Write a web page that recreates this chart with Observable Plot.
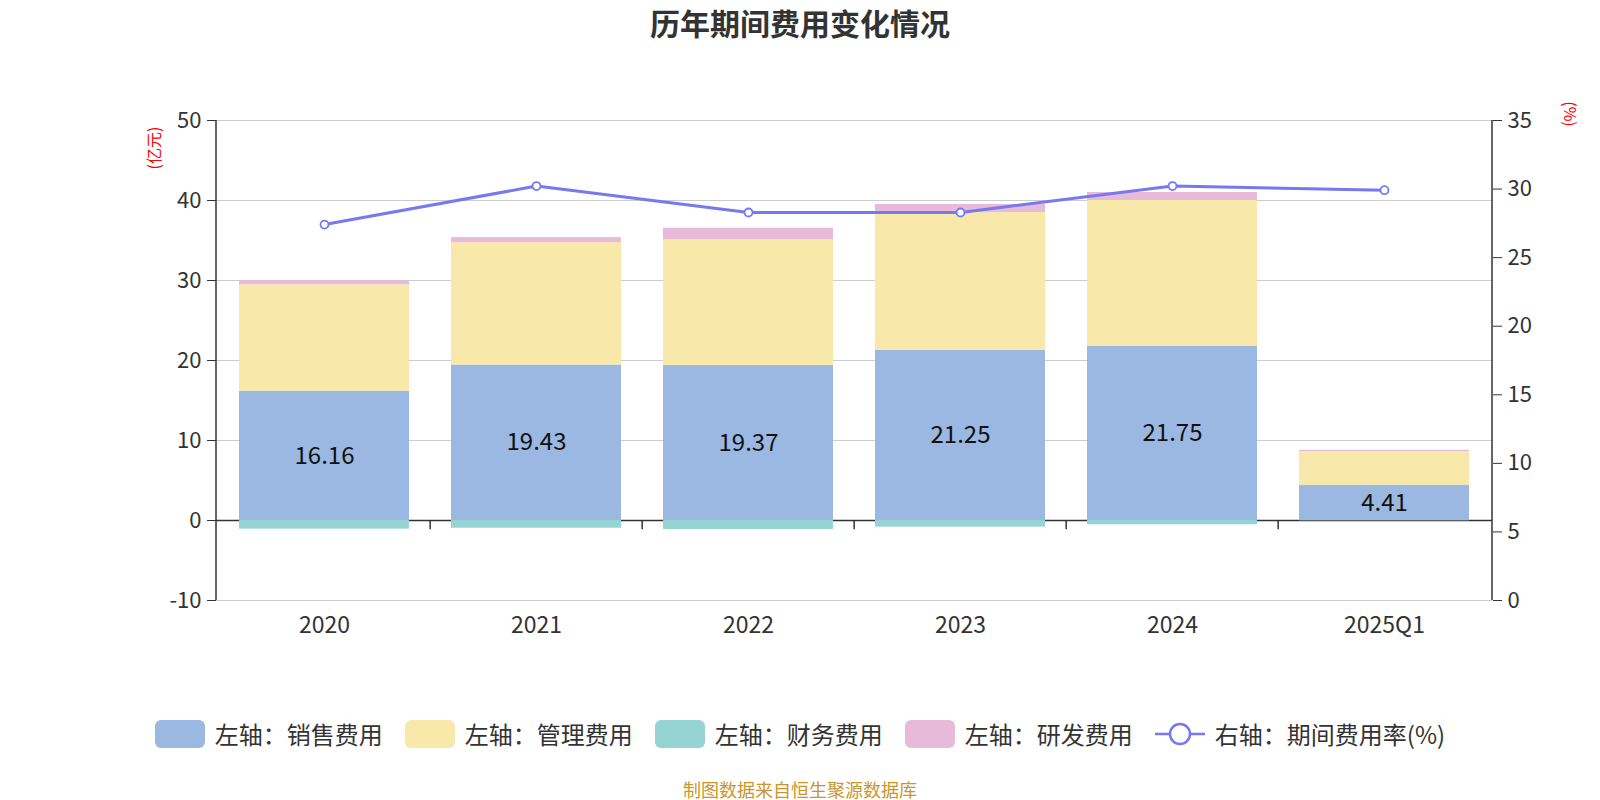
<!DOCTYPE html>
<html>
<head>
<meta charset="utf-8">
<script src="https://cdn.jsdelivr.net/npm/d3@7"></script>
<script src="https://cdn.jsdelivr.net/npm/@observablehq/plot@0.6"></script>
<style>
  html, body { margin: 0; padding: 0; background: #fff; }
  #wrap { position: relative; width: 1600px; height: 800px; font-family: "Noto Sans CJK SC", "Noto Sans", sans-serif; color: #333; }
  #title { position: absolute; top: 2px; left: 0; width: 1600px; text-align: center; font-size: 30px; font-weight: bold; color: #333; line-height: 40px; }
  #chart { position: absolute; top: 50px; left: 0; }
  #legend { position: absolute; top: 716px; left: 0; width: 1600px; display: flex; justify-content: center; align-items: center; font-size: 24px; color: #333; }
  .item { display: flex; align-items: center; margin: 0 11px; }
  .sw { width: 50px; height: 28px; border-radius: 6px; margin-right: 10px; }
  .lsym { margin-right: 10px; }
  #footer { position: absolute; top: 777px; left: 0; width: 1600px; text-align: center; font-size: 18px; color: #c9952e; line-height: 24px; }
  .ylab { position: absolute; color: #f00; font-size: 16px; white-space: nowrap; }
</style>
</head>
<body>
<div id="wrap">
  <div id="title"></div>
  <div id="chart"></div>
  <div class="ylab" id="ylabL"></div>
  <div class="ylab" id="ylabR"></div>
  <div id="legend"></div>
  <div id="footer"></div>
</div>
<script>
const categories = ["2020", "2021", "2022", "2023", "2024", "2025Q1"];
const sales   = [16.16, 19.43, 19.37, 21.25, 21.75, 4.41];
const admin   = [13.30, 15.30, 15.73, 17.24, 18.25, 4.20];
const finance = [-1.08, -0.96, -1.12, -0.83, -0.54, -0.04];
const rnd     = [0.50, 0.63, 1.43, 1.01, 1.00, 0.17];
const rate    = [27.41, 30.22, 28.29, 28.29, 30.22, 29.92];
const leftTicks = [-10, 0, 10, 20, 30, 40, 50];
const rightTicks = [0, 5, 10, 15, 20, 25, 30, 35];
const seriesNames = ["左轴：销售费用", "左轴：管理费用", "左轴：财务费用", "左轴：研发费用"];
const lineName = "右轴：期间费用率(%)";
const seriesColors = ["#9bb8e2", "#f8e8a9", "#96d4d4", "#e8bad9"];
const lineColor = "#7878f0";
const titleText = "历年期间费用变化情况";
const footerText = "制图数据来自恒生聚源数据库";
const leftUnit = "(亿元)";
const rightUnit = "(%)";

const L0 = -10, L1 = 50, R0 = 0, R1 = 35;
const toLeft = r => L0 + (r - R0) * (L1 - L0) / (R1 - R0);
const toRight = l => R0 + (l - L0) * (R1 - R0) / (L1 - L0);

const seriesValues = [sales, admin, finance, rnd];
const long = [];
seriesNames.forEach((s, si) => categories.forEach((c, ci) => long.push({cat: c, series: s, value: seriesValues[si][ci]})));
const lineData = categories.map((c, i) => ({cat: c, rate: rate[i]}));
const salesData = categories.map((c, i) => ({cat: c, v: sales[i]}));

const W = 1600, H = 620, ML = 216, MR = 108, MT = 70, MB = 70;
const step = (W - ML - MR) / categories.length;

function axisLines(index, scales, values, dims) {
  const g = d3.create("svg:g");
  const top = dims.marginTop, bot = dims.height - dims.marginBottom;
  g.append("line").attr("x1", dims.marginLeft).attr("x2", dims.marginLeft).attr("y1", top).attr("y2", bot).attr("stroke", "#333").attr("stroke-width", 1.5);
  const xr = dims.width - dims.marginRight;
  g.append("line").attr("x1", xr).attr("x2", xr).attr("y1", top).attr("y2", bot).attr("stroke", "#333").attr("stroke-width", 1.5);
  return g.node();
}

const chart = Plot.plot({
  width: W, height: H,
  marginLeft: ML, marginRight: MR, marginTop: MT, marginBottom: MB,
  style: {fontFamily: "'Noto Sans CJK SC', 'Noto Sans', sans-serif", background: "transparent"},
  x: {domain: categories, paddingInner: 0.2, paddingOuter: 0.1, axis: null},
  y: {domain: [L0, L1], axis: null},
  color: {domain: seriesNames, range: seriesColors},
  marks: [
    Plot.gridY(leftTicks, {stroke: "#cccccc", strokeOpacity: 1, strokeWidth: 1.2}),
    Plot.ruleY([0], {stroke: "#333", strokeWidth: 1.5}),
    Plot.ruleX(categories.slice(1), {x: d => d, y1: 0, y2: -1.15, dx: -step / 2, stroke: "#333", strokeWidth: 1.5}),
    Plot.barY(long, Plot.stackY({x: "cat", y: "value", fill: "series", order: seriesNames})),
    Plot.text(salesData, {x: "cat", y: d => d.v / 2, text: d => d.v.toFixed(2), fontSize: 24, fill: "#111"}),
    Plot.line(lineData, {x: "cat", y: d => toLeft(d.rate), stroke: lineColor, strokeWidth: 3}),
    Plot.dot(lineData, {x: "cat", y: d => toLeft(d.rate), r: 4, fill: "white", stroke: lineColor, strokeWidth: 1.8}),
    axisLines,
    Plot.axisY(leftTicks, {anchor: "left", tickSize: 9, tickPadding: 6, fontSize: 22, color: "#333", label: null, tickFormat: d => String(d)}),
    Plot.axisY(rightTicks.map(toLeft), {anchor: "right", tickSize: 9, tickPadding: 6, fontSize: 22, color: "#333", label: null, tickFormat: d => String(Math.round(toRight(d)))}),
    Plot.axisX({anchor: "bottom", tickSize: 0, tickPadding: 16, fontSize: 23, color: "#333", label: null})
  ]
});
document.getElementById("chart").appendChild(chart);
document.getElementById("title").textContent = titleText;
document.getElementById("footer").textContent = footerText;

const yl = document.getElementById("ylabL");
yl.textContent = leftUnit;
yl.style.left = "153px"; yl.style.top = "148px";
yl.style.transform = "translate(-50%, -50%) rotate(-90deg)";
const yr = document.getElementById("ylabR");
yr.textContent = rightUnit;
yr.style.left = "1571px"; yr.style.top = "114px";
yr.style.transform = "translate(-50%, -50%) rotate(90deg)";

const legend = document.getElementById("legend");
seriesNames.forEach((s, i) => {
  const it = document.createElement("div"); it.className = "item";
  const sw = document.createElement("div"); sw.className = "sw"; sw.style.background = seriesColors[i];
  const tx = document.createElement("span"); tx.textContent = s;
  it.appendChild(sw); it.appendChild(tx); legend.appendChild(it);
});
{
  const it = document.createElement("div"); it.className = "item";
  it.innerHTML = `<svg class="lsym" width="50" height="28"><line x1="0" x2="50" y1="14" y2="14" stroke="${lineColor}" stroke-width="2.5"/><circle cx="25" cy="14" r="10" fill="white" stroke="${lineColor}" stroke-width="2.5"/></svg>`;
  const tx = document.createElement("span"); tx.textContent = lineName;
  it.appendChild(tx); legend.appendChild(it);
}
</script>
</body>
</html>
